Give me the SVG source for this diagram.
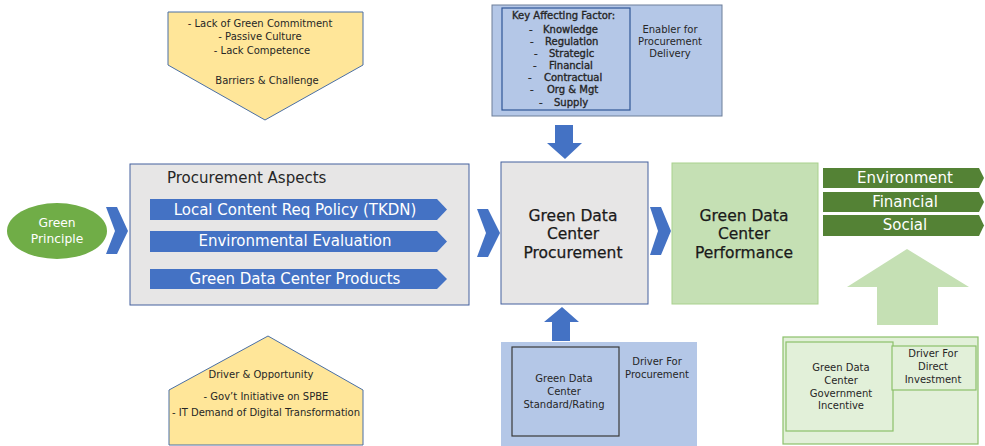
<svg xmlns="http://www.w3.org/2000/svg" width="985" height="446" viewBox="0 0 985 446">
  <style>
    text { font-family: "DejaVu Sans", "Liberation Sans", sans-serif; fill: #262626; }
    .s10 { font-size: 10px; }
    .key { font-size: 10px; stroke: #262626; stroke-width: 0.35; }
    .mid { text-anchor: middle; }
    .title { font-size: 15.5px; text-anchor: middle; fill: #1a1a1a; stroke: #1a1a1a; stroke-width: 0.25; }
    .bar { font-size: 15px; text-anchor: middle; fill: #ffffff; }
    .yellow { fill: #FFE699; stroke: #4A6FA5; stroke-width: 1; }
    .grey { fill: #E7E6E6; stroke: #44609E; stroke-width: 1; }
    .blue { fill: #4472C4; }
    .lblue { fill: #B4C7E7; }
    .lgreen { fill: #C5E0B4; }
    .dgreen { fill: #548235; }
  </style>

  <!-- Barriers & Challenge -->
  <g id="barriers">
    <polygon class="yellow" points="168,12 363,12 363,65 265,120 168,65"/>
    <text class="s10 mid" x="260" y="27">- Lack of Green Commitment</text>
    <text class="s10 mid" x="260" y="40">- Passive Culture</text>
    <text class="s10 mid" x="262" y="54">- Lack Competence</text>
    <text class="s10 mid" x="267" y="84">Barriers &amp; Challenge</text>
  </g>

  <!-- Key affecting factors / enabler -->
  <g id="enabler">
    <rect class="lblue" x="492" y="5" width="230" height="111" stroke="#6C7E99" stroke-width="1"/>
    <rect x="502" y="8" width="128" height="102" fill="none" stroke="#2F5597" stroke-width="1.2"/>
    <text class="key" x="512" y="19">Key Affecting Factor:</text>
    <text class="key" x="529" y="33">-</text><text class="key" x="543" y="33">Knowledge</text>
    <text class="key" x="530" y="45">-</text><text class="key" x="545" y="45">Regulation</text>
    <text class="key" x="534" y="57">-</text><text class="key" x="549" y="57">Strategic</text>
    <text class="key" x="533" y="69">-</text><text class="key" x="549" y="69">Financial</text>
    <text class="key" x="528" y="81">-</text><text class="key" x="544" y="81">Contractual</text>
    <text class="key" x="530" y="93">-</text><text class="key" x="547" y="93">Org &amp; Mgt</text>
    <text class="key" x="539" y="106">-</text><text class="key" x="554" y="106">Supply</text>
    <text class="s10 mid" x="670" y="33">Enabler for</text>
    <text class="s10 mid" x="670" y="45">Procurement</text>
    <text class="s10 mid" x="670" y="57">Delivery</text>
  </g>

  <!-- Green Principle -->
  <g id="green-principle">
    <ellipse cx="57" cy="231" rx="50" ry="28" fill="#70AD47"/>
    <text x="57" y="227" style="font-size:12.3px;fill:#ffffff" text-anchor="middle">Green</text>
    <text x="57" y="243" style="font-size:12.3px;fill:#ffffff" text-anchor="middle">Principle</text>
  </g>

  <!-- Procurement Aspects -->
  <g id="procurement-aspects">
    <rect class="grey" x="130" y="164" width="339" height="141"/>
    <text x="167" y="183" style="font-size:15px">Procurement Aspects</text>
    <polygon class="blue" points="150,199 437,199 447,209.5 437,220 150,220"/>
    <text class="bar" x="295" y="215">Local Content Req Policy (TKDN)</text>
    <polygon class="blue" points="150,231 437,231 447,241.5 437,252 150,252"/>
    <text class="bar" x="295" y="246">Environmental Evaluation</text>
    <polygon class="blue" points="150,269 437,269 447,279 437,289 150,289"/>
    <text class="bar" x="295" y="284">Green Data Center Products</text>
  </g>

  <!-- Green Data Center Procurement -->
  <g id="gdc-procurement">
    <rect class="grey" x="501" y="162" width="147" height="142"/>
    <text class="title" x="573" y="221">Green Data</text>
    <text class="title" x="573" y="239">Center</text>
    <text class="title" x="573" y="258">Procurement</text>
  </g>

  <!-- Green Data Center Performance -->
  <g id="gdc-performance">
    <rect class="lgreen" x="672" y="163" width="146" height="141" stroke="#A9D18E" stroke-width="1"/>
    <text class="title" x="744" y="221">Green Data</text>
    <text class="title" x="744" y="239">Center</text>
    <text class="title" x="744" y="258">Performance</text>
  </g>

  <!-- Outcome tags -->
  <g id="outcomes">
    <polygon class="dgreen" points="823,168 979,168 984,178 979,188 823,188"/>
    <text class="bar" x="905" y="183">Environment</text>
    <polygon class="dgreen" points="823,192 979,192 984,202 979,212 823,212"/>
    <text class="bar" x="905" y="207">Financial</text>
    <polygon class="dgreen" points="823,215 979,215 984,225.5 979,236 823,236"/>
    <text class="bar" x="905" y="230">Social</text>
  </g>

  <!-- Driver & Opportunity -->
  <g id="drivers">
    <polygon class="yellow" points="169,390 268,336 363,390 363,445 169,445"/>
    <text class="s10 mid" x="261" y="378">Driver &amp; Opportunity</text>
    <text class="s10 mid" x="266" y="400">- Gov’t Initiative on SPBE</text>
    <text class="s10 mid" x="266" y="416">- IT Demand of Digital Transformation</text>
  </g>

  <!-- Standard / Rating -->
  <g id="standard-rating">
    <rect class="lblue" x="501" y="342" width="196" height="104"/>
    <rect x="512" y="347" width="107" height="89" fill="none" stroke="#3A3A3A" stroke-width="1.2"/>
    <text class="s10 mid" x="564" y="382">Green Data</text>
    <text class="s10 mid" x="564" y="395">Center</text>
    <text class="s10 mid" x="564" y="408">Standard/Rating</text>
    <text class="s10 mid" x="657" y="365">Driver For</text>
    <text class="s10 mid" x="657" y="378">Procurement</text>
  </g>

  <!-- Government incentive -->
  <g id="gov-incentive">
    <rect x="783" y="337" width="195" height="107" fill="#E2F0D9" stroke="#8CC06A" stroke-width="1.2"/>
    <rect x="786" y="342" width="107" height="89" fill="none" stroke="#8CC06A" stroke-width="1.2"/>
    <rect x="892" y="346" width="84" height="44" fill="#E2F0D9" stroke="#8CC06A" stroke-width="1.2"/>
    <text class="s10 mid" x="841" y="371">Green Data</text>
    <text class="s10 mid" x="841" y="384">Center</text>
    <text class="s10 mid" x="841" y="397">Government</text>
    <text class="s10 mid" x="841" y="409">Incentive</text>
    <text class="s10 mid" x="933" y="357">Driver For</text>
    <text class="s10 mid" x="933" y="370">Direct</text>
    <text class="s10 mid" x="933" y="383">Investment</text>
  </g>

  <!-- Connectors: chevrons and block arrows -->
  <g id="connectors">
    <polygon class="blue" points="106,207 117,207 128,231 117,254 106,254 115,231"/>
    <polygon class="blue" points="477,209 488,209 500,233 488,257 477,257 486,233"/>
    <polygon class="blue" points="650,207 661,207 671,231 661,255 650,255 658,231"/>
    <polygon class="blue" points="555,125 573,125 573,143 582,143 565,159 547,143 555,143"/>
    <polygon class="blue" points="562,307 579,322 570,322 570,341 552,341 552,322 544,322"/>
    <polygon class="lgreen" points="907,249 969,287 938,287 938,325 877,325 877,287 847,287"/>
  </g>
</svg>
